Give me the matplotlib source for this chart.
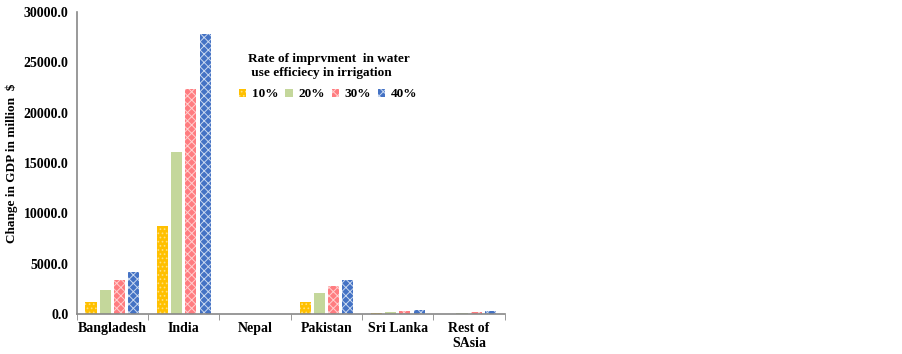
import numpy as np
import matplotlib
matplotlib.use("Agg")
import matplotlib.pyplot as plt
from matplotlib.ticker import FormatStrFormatter

countries = ["Bangladesh", "India", "Nepal", "Pakistan", "Sri Lanka", "Rest of\nSAsia"]
rates = ["10%", "20%", "30%", "40%"]
gdp_10 = [1150, 8700, 5, 1150, 50, 20]
gdp_20 = [2400, 16050, 10, 2100, 150, 80]
gdp_30 = [3380, 22350, 30, 2800, 250, 200]
gdp_40 = [4220, 27850, 40, 3350, 350, 250]

plt.rcParams["font.family"] = ["Liberation Serif", "DejaVu Serif"]
plt.rcParams["font.weight"] = "bold"
plt.rcParams["hatch.linewidth"] = 0.7

fig = plt.figure(figsize=(9.03, 3.54), dpi=100)
ax = fig.add_axes([0.085, 0.113, 0.474, 0.853])

x = np.arange(len(countries))
width = 0.155
step = 0.2
styles = [
    dict(color="#FFC000", hatch="....", edgecolor="#FFE080"),
    dict(color="#C4D79B", hatch=None, edgecolor="#C4D79B"),
    dict(color="#FF7C80", hatch="xxxx", edgecolor="#FFD0D0"),
    dict(color="#4472C4", hatch="xxxx", edgecolor="#C8D8F0"),
]
series = [gdp_10, gdp_20, gdp_30, gdp_40]
for i, (vals, st, lab) in enumerate(zip(series, styles, rates)):
    pos = x + (i - 1.5) * step
    ax.bar(pos, vals, width, facecolor=st["color"], hatch=st["hatch"],
           edgecolor=st["edgecolor"], linewidth=0, label=lab)

ax.set_xlim(-0.5, len(countries) - 0.5)
ax.set_ylim(0, 30000)
ax.set_yticks(np.arange(0, 30001, 5000))
ax.yaxis.set_major_formatter(FormatStrFormatter("%.1f"))
ax.set_xticks(x)
ax.set_xticklabels(countries, fontsize=10, fontweight="bold")
ax.set_xticks(np.arange(-0.5, len(countries)), minor=True)
ax.tick_params(axis="x", which="major", length=0, pad=6)
ax.tick_params(axis="x", which="minor", length=4, color="#888888", direction="out")
ax.tick_params(axis="y", length=0, labelsize=10, pad=6)
for t in ax.get_yticklabels():
    t.set_fontweight("bold")

for s in ["top", "right"]:
    ax.spines[s].set_visible(False)
for s in ["left", "bottom"]:
    ax.spines[s].set_color("#888888")
    ax.spines[s].set_linewidth(1.2)

ax.set_ylabel("Change in GDP in million  $", fontsize=9.5, fontweight="bold")

leg = ax.legend(title="Rate of imprvment  in water\n use efficiecy in irrigation",
                ncol=4, frameon=False, loc="upper left",
                bbox_to_anchor=(0.367, 0.882), fontsize=9.5,
                title_fontproperties={"weight": "bold", "size": 9.5},
                handlelength=0.55, handleheight=0.55, handletextpad=0.45,
                columnspacing=0.5, borderaxespad=0)
leg._legend_box.sep = 7
for t in leg.get_texts():
    t.set_fontweight("bold")

fig.savefig("out.png", dpi=100)
